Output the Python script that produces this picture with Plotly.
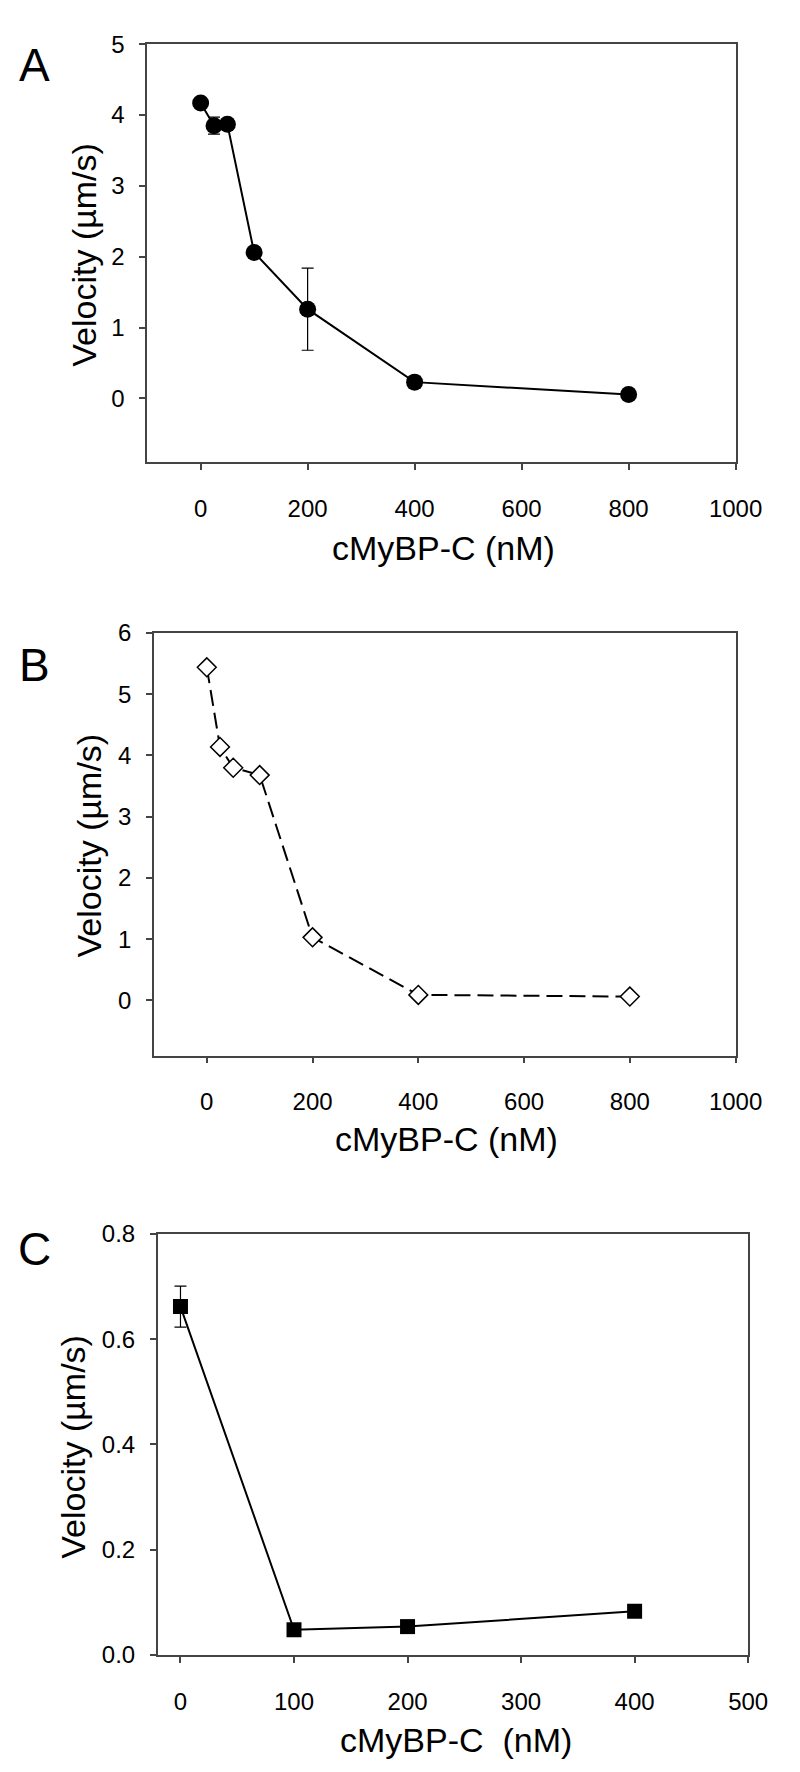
import plotly.graph_objects as go

# ---------------- data ----------------
conc_a = [0, 25, 50, 100, 200, 400, 800]
vel_a = [4.17, 3.85, 3.87, 2.06, 1.26, 0.23, 0.055]
err_a = [0, 0.12, 0, 0, 0.58, 0.08, 0]

conc_b = [0, 25, 50, 100, 200, 400, 800]
vel_b = [5.44, 4.14, 3.80, 3.68, 1.03, 0.09, 0.063]

conc_c = [0, 100, 200, 400]
vel_c = [0.662, 0.048, 0.054, 0.083]
err_c = [0.039, 0, 0, 0]

ticks_a_x = [0, 200, 400, 600, 800, 1000]
ticks_a_y = [0, 1, 2, 3, 4, 5]
ticks_b_y = [0, 1, 2, 3, 4, 5, 6]
ticks_c_x = [0, 100, 200, 300, 400, 500]
ticks_c_y = [0.0, 0.2, 0.4, 0.6, 0.8]

W, H = 800, 1772
FONT = "Liberation Sans, Arial, sans-serif"


def px_x(v):
    return v / W


def px_y(v):
    return 1 - v / H


fig = go.Figure()

fig.add_trace(go.Scatter(
    x=conc_a, y=vel_a, mode="lines+markers",
    line=dict(color="black", width=2),
    marker=dict(symbol="circle", size=17, color="black"),
    error_y=dict(type="data", array=err_a, visible=True, color="black",
                 thickness=1.2, width=6),
    xaxis="x", yaxis="y", showlegend=False,
))

fig.add_trace(go.Scatter(
    x=conc_b, y=vel_b, mode="lines+markers",
    line=dict(color="black", width=2, dash="16px,7px"),
    marker=dict(symbol="diamond", size=14.5, color="white",
                line=dict(color="black", width=1.5)),
    xaxis="x2", yaxis="y2", showlegend=False,
))

fig.add_trace(go.Scatter(
    x=conc_c, y=vel_c, mode="lines+markers",
    line=dict(color="black", width=2),
    marker=dict(symbol="square", size=15, color="black"),
    error_y=dict(type="data", array=err_c, visible=True, color="black",
                 thickness=1.2, width=6),
    xaxis="x3", yaxis="y3", showlegend=False,
))

axis_common = dict(
    showgrid=False, zeroline=False, showline=True, linecolor="#444",
    linewidth=1.5, mirror=True, ticks="outside", ticklen=6,
    tickcolor="#444", tickwidth=1.5,
    tickfont=dict(family=FONT, size=24, color="black"),
)

panels = {
    # name: (left, right, top, bottom) in pixels
    "a": (144, 753, 22.5, 447),
    "b": (151, 753, 620.5, 1049.5),
    "c": (155, 766, 1230.7, 1658.3),
}

layout = dict(
    width=W, height=H, margin=dict(l=0, r=0, t=0, b=0),
    paper_bgcolor="white", plot_bgcolor="white",
    font=dict(family=FONT, color="black"),
)

l, r, t, b = panels["a"]
layout["xaxis"] = dict(axis_common, domain=[px_x(l), px_x(r)], range=[-100, 1000],
                       tickvals=ticks_a_x, anchor="y", ticklabelstandoff=18)
layout["yaxis"] = dict(axis_common, domain=[px_y(b), px_y(t)], range=[-0.9, 5],
                       tickvals=ticks_a_y, anchor="x", ticklabelstandoff=10)
l, r, t, b = panels["b"]
layout["xaxis2"] = dict(axis_common, domain=[px_x(l), px_x(r)], range=[-100, 1000],
                        tickvals=ticks_a_x, anchor="y2", ticklabelstandoff=18)
layout["yaxis2"] = dict(axis_common, domain=[px_y(b), px_y(t)], range=[-0.9, 6],
                        tickvals=ticks_b_y, anchor="x2", ticklabelstandoff=10)
l, r, t, b = panels["c"]
layout["xaxis3"] = dict(axis_common, domain=[px_x(l), px_x(r)], range=[-20, 500],
                        tickvals=ticks_c_x, anchor="y3", ticklabelstandoff=18)
layout["yaxis3"] = dict(axis_common, domain=[px_y(b), px_y(t)], range=[0, 0.8],
                        tickvals=ticks_c_y, tickformat=".1f", anchor="x3",
                        ticklabelstandoff=10)

fig.update_layout(**layout)


def ann(text, x, y, size, angle=0):
    fig.add_annotation(text=text, x=px_x(x), y=px_y(y), xref="paper", yref="paper",
                       xanchor="center", yanchor="middle", showarrow=False,
                       textangle=angle, font=dict(family=FONT, size=size, color="black"))


# panel letters
ann("A", 27, 44, 46)
ann("B", 27, 653, 46)
ann("C", 27, 1246, 46)
# y titles
ann("Velocity (µm/s)", 79, 236, 34, -90)
ann("Velocity (µm/s)", 84, 836, 34, -90)
ann("Velocity (µm/s)", 67, 1447, 34, -90)
# x titles
ann("cMyBP-C (nM)", 451, 534, 34)
ann("cMyBP-C (nM)", 454, 1134, 34)
ann("cMyBP-C&nbsp; (nM)", 464, 1745, 34)

fig.write_html("out.html")
